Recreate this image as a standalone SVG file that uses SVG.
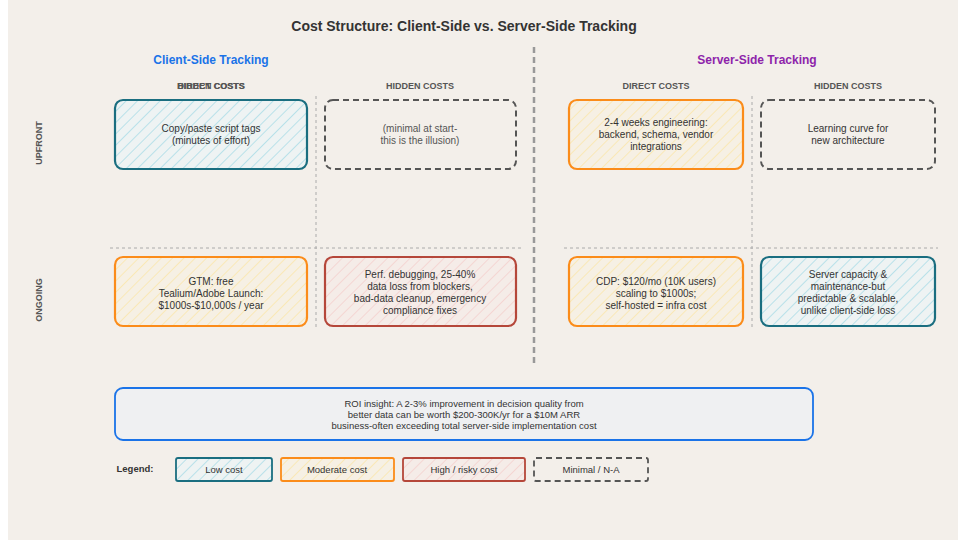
<svg xmlns="http://www.w3.org/2000/svg" width="960" height="540" viewBox="0 0 960 540">
<defs>
<pattern id="hb" patternUnits="userSpaceOnUse" width="8" height="8" patternTransform="rotate(45)"><rect width="8" height="8" fill="#eef3f3"/><line x1="0" y1="0" x2="0" y2="8" stroke="#a8dbe6" stroke-width="1.5"/></pattern>
<pattern id="ho" patternUnits="userSpaceOnUse" width="8" height="8" patternTransform="rotate(45)"><rect width="8" height="8" fill="#f6f0e4"/><line x1="0" y1="0" x2="0" y2="8" stroke="#fbe6a8" stroke-width="1.5"/></pattern>
<pattern id="hr" patternUnits="userSpaceOnUse" width="8" height="8" patternTransform="rotate(45)"><rect width="8" height="8" fill="#f5ece8"/><line x1="0" y1="0" x2="0" y2="8" stroke="#f4cfcc" stroke-width="1.5"/></pattern>
</defs>
<style>
text{font-family:"Liberation Sans",Arial,sans-serif;fill:#333;text-anchor:middle}
.t{font-size:10px}
.h{font-size:9px;font-weight:bold;fill:#555}
.low{fill:url(#hb);stroke:#1a6e80;stroke-width:2.2}
.mod{fill:url(#ho);stroke:#fb8c1a;stroke-width:2.2}
.high{fill:url(#hr);stroke:#b5473a;stroke-width:2.2}
.min{fill:none;stroke:#555;stroke-width:2;stroke-dasharray:6 4}
.grid{stroke:#aaa;stroke-width:1;stroke-dasharray:3 3}
</style>
<rect width="960" height="540" fill="#fff"/>
<rect x="8" y="0" width="950" height="540" fill="#f3efea"/>
<text x="464" y="31" style="font-size:14px;font-weight:bold">Cost Structure: Client-Side vs. Server-Side Tracking</text>
<text x="211" y="64" style="font-size:12px;font-weight:bold;fill:#1a73e8">Client-Side Tracking</text>
<text x="757" y="64" style="font-size:12px;font-weight:bold;fill:#8e24aa">Server-Side Tracking</text>
<text class="h" x="211" y="89">DIRECT COSTS</text>
<text class="h" x="211" y="89">HIDDEN COSTS</text>
<text class="h" x="420" y="89">HIDDEN COSTS</text>
<text class="h" x="656" y="89">DIRECT COSTS</text>
<text class="h" x="848" y="89">HIDDEN COSTS</text>
<text class="h" transform="translate(42,143) rotate(-90)">UPFRONT</text>
<text class="h" transform="translate(42,300) rotate(-90)">ONGOING</text>
<g id="connectors">
<line x1="534" y1="47" x2="534" y2="367" stroke="#999" stroke-width="2.5" stroke-dasharray="6 4"/>
<line class="grid" x1="316" y1="96" x2="316" y2="330"/>
<line class="grid" x1="752" y1="96" x2="752" y2="330"/>
<line class="grid" x1="110" y1="248" x2="521" y2="248"/>
<line class="grid" x1="564" y1="248" x2="938" y2="248"/>
</g>
<g id="c-up-direct"><rect class="low" x="115" y="100" width="192" height="69" rx="8"/><text class="t" x="211" y="132">Copy/paste script tags</text><text class="t" x="211" y="144">(minutes of effort)</text></g>
<g id="c-up-hidden"><rect class="min" x="325" y="100" width="191" height="69" rx="8"/><text class="t" x="420" y="132" style="fill:#555">(minimal at start-</text><text class="t" x="420" y="144" style="fill:#555">this is the illusion)</text></g>
<g id="s-up-direct"><rect class="mod" x="569" y="100" width="174" height="69" rx="8"/><text class="t" x="656" y="126">2-4 weeks engineering:</text><text class="t" x="656" y="138">backend, schema, vendor</text><text class="t" x="656" y="150">integrations</text></g>
<g id="s-up-hidden"><rect class="min" x="761" y="100" width="174" height="69" rx="8"/><text class="t" x="848" y="132">Learning curve for</text><text class="t" x="848" y="144">new architecture</text></g>
<g id="c-on-direct"><rect class="mod" x="115" y="257" width="192" height="69" rx="8"/><text class="t" x="211" y="285">GTM: free</text><text class="t" x="211" y="297">Tealium/Adobe Launch:</text><text class="t" x="211" y="309">$1000s-$10,000s / year</text></g>
<g id="c-on-hidden"><rect class="high" x="325" y="257" width="191" height="69" rx="8"/><text class="t" x="420" y="278">Perf. debugging, 25-40%</text><text class="t" x="420" y="290">data loss from blockers,</text><text class="t" x="420" y="302">bad-data cleanup, emergency</text><text class="t" x="420" y="314">compliance fixes</text></g>
<g id="s-on-direct"><rect class="mod" x="569" y="257" width="174" height="69" rx="8"/><text class="t" x="656" y="285">CDP: $120/mo (10K users)</text><text class="t" x="656" y="297">scaling to $1000s;</text><text class="t" x="656" y="309">self-hosted = infra cost</text></g>
<g id="s-on-hidden"><rect class="low" x="761" y="257" width="174" height="69" rx="8"/><text class="t" x="848" y="278">Server capacity &amp;</text><text class="t" x="848" y="290">maintenance-but</text><text class="t" x="848" y="302">predictable &amp; scalable,</text><text class="t" x="848" y="314">unlike client-side loss</text></g>
<g id="roi"><rect x="115" y="388" width="698" height="52" rx="8" fill="#eff0f2" stroke="#1a73e8" stroke-width="1.8"/><text class="t" x="464" y="407" style="font-size:9.5px">ROI insight: A 2-3% improvement in decision quality from</text><text class="t" x="464" y="418" style="font-size:9.5px">better data can be worth $200-300K/yr for a $10M ARR</text><text class="t" x="464" y="429" style="font-size:9.5px">business-often exceeding total server-side implementation cost</text></g>
<g id="legend">
<text x="135" y="472" style="font-size:9.5px;font-weight:bold">Legend:</text>
<rect class="low" x="176" y="458" width="96" height="23" rx="2" style="stroke-width:1.8"/><text class="t" x="224" y="473" style="font-size:9.5px">Low cost</text>
<rect class="mod" x="281" y="458" width="113" height="23" rx="2" style="stroke-width:1.8"/><text class="t" x="337" y="473" style="font-size:9.5px">Moderate cost</text>
<rect class="high" x="403" y="458" width="122" height="23" rx="2" style="stroke-width:1.8"/><text class="t" x="464" y="473" style="font-size:9.5px">High / risky cost</text>
<rect class="min" x="534" y="458" width="114" height="23" rx="2" style="stroke-width:1.8"/><text class="t" x="591" y="473" style="font-size:9.5px">Minimal / N-A</text>
</g>
</svg>
